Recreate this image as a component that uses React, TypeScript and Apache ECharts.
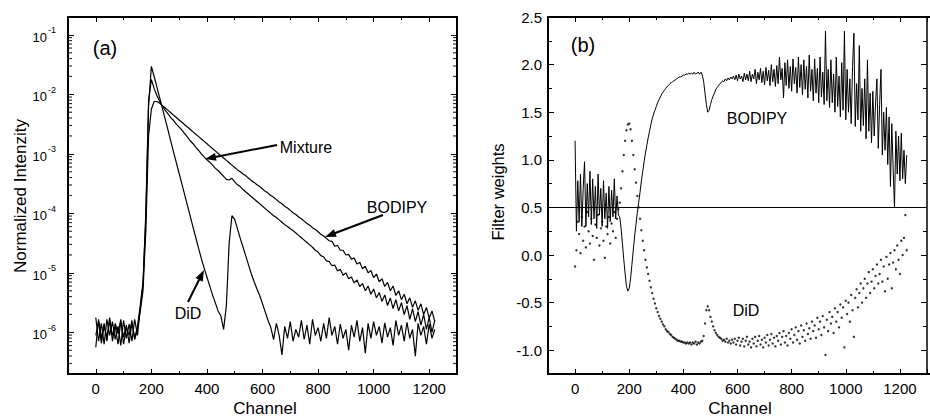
import React, { useEffect, useRef } from "react";
import * as echarts from "echarts";

const FONT = '"Liberation Sans", Arial, Helvetica, sans-serif';

const LEFT_STEP = 10;
const didLog = [
  -6.25, -5.78, -6.1, -5.85, -6.15, -5.8, -6.05, -5.9, -6.2, -5.82, -6.08, -5.88, -6.18, -5.84, -6.1, -5.9,
  -5.55, -5.15, -4.1, -2.2, -1.53, -1.7, -1.88, -2.06, -2.24, -2.42,
  -2.6, -2.79, -2.97, -3.15, -3.33, -3.51, -3.69, -3.87, -4.05, -4.23,
  -4.41, -4.59, -4.76, -4.92, -5.07, -5.22, -5.37, -5.5, -5.64, -5.72,
  -5.95, -5.55, -4.5, -4.04, -4.1, -4.26, -4.42, -4.57, -4.72, -4.87,
  -5.02, -5.15, -5.27, -5.38, -5.52, -5.66, -5.8, -5.92, -6.12, -5.85,
  -6.05, -6.38, -5.9, -6.1, -5.82, -6.15, -5.95, -6.08, -5.8, -6.12,
  -5.88, -6.2, -5.78, -6.05, -5.92, -6.15, -5.85, -6.1, -5.75, -6.05,
  -5.9, -6.2, -5.86, -6.1, -5.95, -6.3, -5.88, -6.08, -5.8, -6.15,
  -5.92, -6.35, -5.85, -6.1, -5.82, -6.05, -5.9, -6.18, -5.84, -6.08,
  -5.92, -6.22, -5.8, -6.05, -5.88, -6.15, -5.83, -6.1, -5.95, -6.4,
  -5.85, -6.05, -5.9, -6.2, -5.86, -6.1, -5.95,
];
const mixtureLog = [
  -5.75, -6.15, -5.85, -6.2, -5.78, -6.05, -5.82, -6.12, -5.9, -6.22, -5.8, -6.1, -5.86, -6.15, -5.78, -6.05,
  -5.6, -5.2, -4.0, -2.1, -1.75, -1.9, -2.02, -2.12, -2.2, -2.27,
  -2.33, -2.39, -2.44, -2.5, -2.55, -2.6, -2.66, -2.72, -2.78, -2.83,
  -2.89, -2.94, -3.0, -3.05, -3.1, -3.14, -3.19, -3.24, -3.28, -3.33,
  -3.38, -3.43, -3.44, -3.41, -3.47, -3.52, -3.55, -3.6, -3.64, -3.68,
  -3.72, -3.76, -3.8, -3.84, -3.88, -3.92, -3.96, -4.0, -4.04, -4.07,
  -4.11, -4.15, -4.19, -4.22, -4.26, -4.29, -4.33, -4.37, -4.41, -4.45,
  -4.49, -4.53, -4.57, -4.62, -4.65, -4.71, -4.73, -4.8, -4.81, -4.88,
  -4.87, -4.97, -4.94, -5.04, -5.0, -5.1, -5.07, -5.17, -5.12, -5.23,
  -5.18, -5.3, -5.22, -5.36, -5.27, -5.42, -5.33, -5.48, -5.37, -5.55,
  -5.42, -5.6, -5.45, -5.64, -5.5, -5.7, -5.55, -5.78, -5.6, -5.82,
  -5.65, -5.88, -5.7, -5.95, -5.75, -6.0, -5.8,
];
const bodipyLog = [
  -6.05, -5.82, -6.18, -5.9, -6.08, -5.75, -6.15, -5.85, -6.02, -5.78, -6.2, -5.92, -6.05, -5.8, -6.12, -5.95,
  -5.65, -5.3, -4.3, -2.7, -2.25, -2.12, -2.12, -2.15, -2.19, -2.23,
  -2.27, -2.31, -2.35, -2.39, -2.43, -2.47, -2.51, -2.55, -2.59, -2.63,
  -2.67, -2.71, -2.75, -2.79, -2.83, -2.87, -2.91, -2.95, -2.99, -3.03,
  -3.07, -3.11, -3.15, -3.19, -3.23, -3.27, -3.3, -3.34, -3.37, -3.41,
  -3.45, -3.48, -3.52, -3.55, -3.59, -3.63, -3.66, -3.7, -3.73, -3.77,
  -3.81, -3.84, -3.88, -3.91, -3.95, -3.99, -4.02, -4.06, -4.09, -4.13,
  -4.17, -4.2, -4.24, -4.27, -4.31, -4.35, -4.38, -4.42, -4.46,
  -4.47, -4.55, -4.54, -4.62, -4.62, -4.7, -4.69, -4.77, -4.75, -4.85,
  -4.82, -4.93, -4.89, -5.0, -4.96, -5.08, -5.02, -5.15, -5.1, -5.23,
  -5.16, -5.3, -5.22, -5.38, -5.3, -5.45, -5.36, -5.52, -5.42, -5.58,
  -5.47, -5.63, -5.52, -5.7, -5.58, -5.76, -5.64, -5.82,
];
const leftXTicks = [0, 200, 400, 600, 800, 1000, 1200];
const leftYExponents = [-6, -5, -4, -3, -2, -1];

const RIGHT_STEP = 5;
const bodipyWeights = [
  1.2, 0.25, 0.78, 0.35, 0.85, 0.3, 0.7, 0.98, 0.3, 0.75, 0.4, 0.88, 0.32, 0.8, 0.38, 0.72, 0.28, 0.85, 0.42, 0.7,
  0.3, 0.78, 0.38, 0.65, 0.28, 0.72, 0.35, 0.68, 0.4, 0.8, 0.38, 0.62, 0.42,
  0.4, 0.28, 0.12, -0.05, -0.2, -0.33, -0.38, -0.35, -0.25, -0.1,
  0.05, 0.2, 0.32, 0.45, 0.55, 0.66, 0.78, 0.88, 0.98, 1.07,
  1.15, 1.23, 1.3, 1.37, 1.43, 1.48, 1.52, 1.56, 1.6, 1.63,
  1.66, 1.69, 1.71, 1.73, 1.75, 1.77, 1.78, 1.8, 1.81, 1.82,
  1.83, 1.84, 1.85, 1.86, 1.87, 1.87, 1.88, 1.89, 1.89, 1.9,
  1.9, 1.91, 1.9, 1.91, 1.9, 1.92, 1.9, 1.91, 1.92, 1.9,
  1.92, 1.89, 1.82, 1.7, 1.58, 1.5, 1.52, 1.58, 1.63, 1.67,
  1.7, 1.74, 1.76, 1.78, 1.8, 1.81, 1.83, 1.82, 1.85, 1.83,
  1.86, 1.84, 1.87,
  1.85, 1.88, 1.84, 1.89, 1.83, 1.9, 1.85, 1.88, 1.82, 1.91,
  1.84, 1.9, 1.83, 1.93, 1.82, 1.9, 1.85, 1.95, 1.8, 1.92,
  1.84, 1.96, 1.81, 1.93, 1.79, 1.97, 1.83, 1.94, 1.78, 2.0,
  1.82, 1.95, 1.77, 1.99, 1.8, 2.08, 1.84, 1.96, 1.65, 2.02,
  1.78, 2.05, 1.75, 1.98, 1.72, 2.06, 1.8, 1.97, 1.7, 2.08,
  1.76, 2.0, 1.68, 2.05, 1.74, 1.98, 1.65, 2.1, 1.72, 1.95,
  1.62, 2.06, 1.7, 1.96, 1.6, 2.08, 1.66, 1.92, 1.58, 2.35,
  1.62, 1.95, 1.55, 2.05, 1.6, 1.9, 1.5, 2.08, 1.56, 1.88,
  1.45, 2.02, 1.52, 2.35, 1.42, 1.95, 1.5, 1.85, 1.38, 1.98,
  2.33, 1.35, 1.8, 1.42, 2.2, 1.3, 1.75, 1.36, 1.85, 1.22,
  2.05, 1.3, 1.7, 1.18, 1.72, 1.25, 1.6, 1.85, 1.12, 1.58,
  1.95, 1.05, 1.5, 1.1, 1.55, 0.95, 1.45, 0.72, 1.38, 0.9,
  0.5, 1.3, 0.85, 1.25, 0.78, 1.28, 0.8, 1.1, 0.75, 1.05,
];
const didWeights = [
  -0.12, 0.05, 0.35, 0.22, 0.02, 0.4, 0.15, 0.3, 0.08, 0.45, 0.25, 0.12, 0.38, 0.2, -0.05, 0.32, 0.18, 0.42, 0.1, 0.28,
  0.35, 0.15, -0.03, 0.3, 0.22, 0.4, 0.12, 0.33, 0.25, 0.45, 0.18, 0.38, 0.48,
  0.55, 0.7, 0.88, 1.05, 1.2, 1.31, 1.37, 1.38, 1.32, 1.2,
  1.05, 0.9, 0.76, 0.62, 0.5, 0.38, 0.26, 0.15, 0.05, -0.05,
  -0.13, -0.2, -0.27, -0.34, -0.4, -0.46, -0.51, -0.56, -0.6, -0.64,
  -0.67, -0.7, -0.73, -0.75, -0.78, -0.8, -0.81, -0.83, -0.84, -0.86,
  -0.87, -0.88, -0.89, -0.9, -0.9, -0.91, -0.91, -0.92, -0.92, -0.93,
  -0.92, -0.93, -0.92, -0.94, -0.92, -0.93, -0.91, -0.94, -0.92, -0.93,
  -0.91, -0.9, -0.85, -0.72, -0.58, -0.54, -0.58, -0.65, -0.7, -0.75,
  -0.79, -0.82, -0.84, -0.86, -0.87, -0.88, -0.9, -0.89, -0.91, -0.88,
  -0.92, -0.9, -0.93,
  -0.89, -0.92, -0.88, -0.94, -0.9, -0.87, -0.95, -0.91, -0.88, -0.96,
  -0.9, -0.86, -0.94, -0.91, -0.97, -0.88, -0.93, -0.86, -0.96, -0.9,
  -0.85, -0.94, -0.89, -0.97, -0.87, -0.92, -0.84, -0.95, -0.89, -0.83,
  -0.93, -0.87, -0.96, -0.85, -0.9, -0.82, -0.94, -0.86, -0.8, -0.92,
  -0.85, -0.95, -0.82, -0.88, -0.78, -0.92, -0.84, -0.76, -0.89, -0.8,
  -0.93, -0.74, -0.86, -0.79, -0.9, -0.72, -0.83, -0.77, -0.88, -0.7,
  -0.8, -0.74, -0.87, -0.66, -0.78, -0.7, -0.84, -0.64, -0.76, -1.05,
  -0.68, -0.8, -0.6, -0.72, -0.65, -0.82, -0.56, -0.7, -0.6, -0.76,
  -0.52, -0.66, -0.55, -0.97, -0.48, -0.62, -0.5, -0.7, -0.42, -0.58,
  -0.86, -0.45, -0.36, -0.55, -0.4, -0.3, -0.5, -0.35, -0.25, -0.45,
  -0.3, -0.18, -0.4, -0.28, -0.15, -0.35, -0.22, -0.1, -0.3, -0.2,
  -0.05, -0.28, -0.12, -0.38, -0.02, -0.25, -0.1, 0.02, -0.35, -0.08,
  0.05, -0.15, 0.1, -0.05, -0.2, 0.15, 0.0, 0.18, 0.42, 0.05,
];
const thresholdWeight = 0.5;
const rightYTicks = [-1.0, -0.5, 0.0, 0.5, 1.0, 1.5, 2.0, 2.5];

const toPairs = (vals: number[], step: number) => vals.map((v, i) => [i * step, v]);

const AX_MIN = -100;
const AX_MAX = 1300;

function xLabel(v: number) {
  return leftXTicks.indexOf(Math.round(v)) >= 0 && Math.abs(v - Math.round(v)) < 1e-6 ? String(Math.round(v)) : "";
}

function arrow(x1: number, y1: number, x2: number, y2: number) {
  const dx = x2 - x1, dy = y2 - y1;
  const len = Math.sqrt(dx * dx + dy * dy);
  const ux = dx / len, uy = dy / len;
  const L = 11, W = 4;
  const bx = x2 - ux * L, by = y2 - uy * L;
  return [
    { type: "line", shape: { x1, y1, x2: bx + ux * 2, y2: by + uy * 2 }, style: { stroke: "#000", lineWidth: 2 } },
    {
      type: "polygon",
      shape: { points: [[x2, y2], [bx - uy * W, by + ux * W], [bx + uy * W, by - ux * W]] },
      style: { fill: "#000" },
    },
  ];
}

function label(text: string, x: number, y: number, size: number, rotation = 0) {
  return {
    type: "text", x, y, rotation,
    style: {
      text, fill: "#000", font: `${size}px ${FONT}`,
      align: "center", verticalAlign: "middle", textAlign: "center", textVerticalAlign: "middle",
    },
  };
}

// panel frames drawn as filled black bars hugging the plot area's edges
function frameBars(l: number, t: number, w: number, h: number) {
  const s = 2;
  const mk = (x: number, y: number, ww: number, hh: number) => ({
    type: "rect", z: 50, silent: true, shape: { x, y, width: ww, height: hh }, style: { fill: "#000" },
  });
  return [mk(l - 1, t - 1, w + 2, s), mk(l - 1, t + h - 1, w + 2, s), mk(l - 1, t - 1, s, h + 2), mk(l + w - 1, t - 1, s, h + 2)];
}

const LINE = { show: true, onZero: false, lineStyle: { color: "#000", width: 1.5 } };
const TICK = { show: true, inside: true, length: 5, lineStyle: { color: "#000", width: 1 } };
const MINOR = { show: true, splitNumber: 2, length: 3, lineStyle: { color: "#000", width: 1 } };

function xAxisDef(grid: number, position: string, withLabels: boolean) {
  return {
    type: "value", gridIndex: grid, position, min: AX_MIN, max: AX_MAX, splitNumber: 7,
    axisLine: LINE, axisTick: TICK, minorTick: MINOR, splitLine: { show: false }, minorSplitLine: { show: false },
    axisLabel: withLabels
      ? { show: true, margin: 7, fontSize: 15, color: "#000", fontFamily: FONT, formatter: xLabel }
      : { show: false },
  };
}

export default function App() {
  const ref = useRef<HTMLDivElement>(null);
  useEffect(() => {
    if (!ref.current) return;
    const chart = echarts.init(ref.current, undefined, { renderer: "svg" });

    const minorLog: number[] = [];
    for (let n = -7; n <= -1; n++) {
      for (let k = 2; k <= 9; k++) {
        const v = n + Math.log10(k);
        if (v > -6.7 && v < -0.7) minorLog.push(v);
      }
    }

    const option: any = {
      animation: false,
      backgroundColor: "#fff",
      grid: [
        { left: 68, top: 17, width: 389, height: 357 },
        { left: 548, top: 17, width: 389, height: 357 },
      ],
      xAxis: [
        xAxisDef(0, "bottom", true),
        xAxisDef(0, "top", false),
        xAxisDef(1, "bottom", true),
        xAxisDef(1, "top", false),
      ],
      yAxis: [
        {
          type: "value", gridIndex: 0, position: "left", min: -6.7, max: -0.7, splitNumber: 5,
          axisLine: LINE, axisTick: { ...TICK, length: 6 }, minorTick: { show: false }, splitLine: { show: false },
          axisLabel: {
            show: true, margin: 12, color: "#000",
            formatter: (v: number) => {
              const r = Math.round(v);
              if (Math.abs(v - r) > 1e-6 || leftYExponents.indexOf(r) < 0) return "";
              return `{b|10}{s|${r}}`;
            },
            rich: {
              b: { fontSize: 13, fontFamily: FONT, color: "#000", lineHeight: 18, verticalAlign: "bottom" },
              s: { fontSize: 9, fontFamily: FONT, color: "#000", lineHeight: 10, verticalAlign: "top", padding: [0, 0, 0, 1] },
            },
          },
        },
        {
          type: "value", gridIndex: 0, position: "right", min: -6.7, max: -0.7, splitNumber: 5,
          axisLine: LINE, axisTick: { ...TICK, length: 6 }, minorTick: { show: false }, splitLine: { show: false },
          axisLabel: { show: false },
        },
        {
          type: "value", gridIndex: 1, position: "left", min: -1.25, max: 2.5, splitNumber: 8,
          axisLine: LINE, axisTick: { ...TICK, length: 6 }, splitLine: { show: false },
          minorTick: { ...MINOR, length: 4 },
          axisLabel: {
            show: true, margin: 6, fontSize: 15, color: "#000", fontFamily: FONT,
            formatter: (v: number) => {
              const hit = rightYTicks.find((t) => Math.abs(t - v) < 1e-6);
              return hit === undefined ? "" : hit.toFixed(1);
            },
          },
        },
        {
          type: "value", gridIndex: 1, position: "right", min: -1.25, max: 2.5, splitNumber: 8,
          axisLine: LINE, axisTick: { ...TICK, length: 6 }, minorTick: { ...MINOR, length: 4 }, splitLine: { show: false },
          axisLabel: { show: false },
        },
      ],
      series: [
        {
          type: "line", xAxisIndex: 0, yAxisIndex: 0, data: toPairs(didLog, LEFT_STEP),
          showSymbol: false, symbol: "none", lineStyle: { color: "#000", width: 1.2 }, silent: true,
        },
        {
          type: "line", xAxisIndex: 0, yAxisIndex: 0, data: toPairs(mixtureLog, LEFT_STEP),
          showSymbol: false, symbol: "none", lineStyle: { color: "#000", width: 1.2 }, silent: true,
        },
        {
          type: "line", xAxisIndex: 0, yAxisIndex: 0, data: toPairs(bodipyLog, LEFT_STEP),
          showSymbol: false, symbol: "none", lineStyle: { color: "#000", width: 1.2 }, silent: true,
        },
        {
          type: "scatter", xAxisIndex: 0, yAxisIndex: 0, silent: true, clip: false,
          data: minorLog.map((v) => [AX_MIN, v]),
          symbol: "rect", symbolSize: [4, 1.2], symbolOffset: [2, 0], itemStyle: { color: "#000" },
        },
        {
          type: "scatter", xAxisIndex: 0, yAxisIndex: 0, silent: true, clip: false,
          data: minorLog.map((v) => [AX_MAX, v]),
          symbol: "rect", symbolSize: [4, 1.2], symbolOffset: [-2, 0], itemStyle: { color: "#000" },
        },
        {
          type: "line", xAxisIndex: 2, yAxisIndex: 2, data: toPairs(bodipyWeights, RIGHT_STEP),
          showSymbol: false, symbol: "none", lineStyle: { color: "#000", width: 1 }, silent: true,
          markLine: {
            silent: true, symbol: ["none", "none"], label: { show: false },
            lineStyle: { color: "#000", width: 1, type: "solid" },
            data: [{ yAxis: thresholdWeight }],
          },
        },
        {
          type: "scatter", xAxisIndex: 2, yAxisIndex: 2, data: toPairs(didWeights, RIGHT_STEP),
          symbol: "circle", symbolSize: 2.4, itemStyle: { color: "#000" }, silent: true,
        },
      ],
      graphic: [
        ...frameBars(68, 17, 389, 357),
        ...frameBars(548, 17, 389, 357),
        label("(a)", 105, 48, 20),
        label("Mixture", 306, 147, 16),
        label("BODIPY", 397, 207, 16),
        label("DiD", 188, 313, 16),
        ...arrow(277, 145, 205, 159),
        ...arrow(383, 215, 325, 237),
        ...arrow(188, 302, 204, 270),
        label("Normalized Intenzity", 20, 196, 17, Math.PI / 2),
        label("Channel", 265, 408, 17),
        label("(b)", 583, 45, 20),
        label("BODIPY", 757, 118, 16),
        label("DiD", 746, 310, 16),
        label("Filter weights", 498, 192, 16.5, Math.PI / 2),
        label("Channel", 740, 408, 17),
      ],
    };
    chart.setOption(option);
    return () => chart.dispose();
  }, []);
  return (
    <div
      ref={ref}
      style={{ position: "absolute", left: 0, top: 0, width: 930, height: 419, background: "#fff" }}
    />
  );
}
